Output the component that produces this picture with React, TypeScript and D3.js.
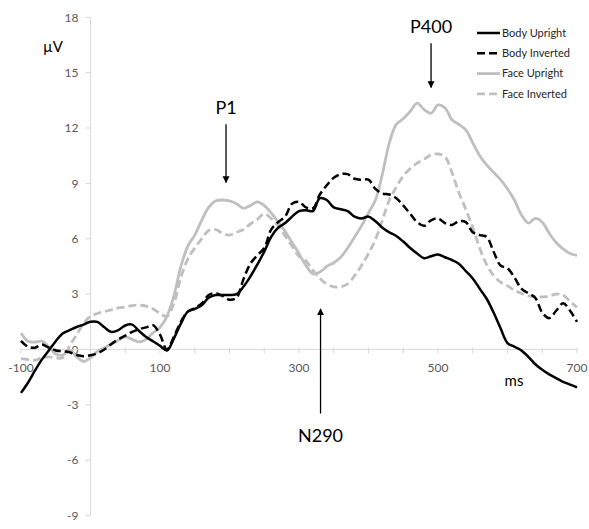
import React, { useEffect, useRef } from 'react'
import * as d3 from 'd3'

// time points (ms), one value every 10 ms
const times = d3.range(-100, 701, 10)

const bodyUpright = [
  -2.35, -1.8, -1.15, -0.55, -0.05, 0.45, 0.87, 1.05, 1.22, 1.35,
  1.5, 1.5, 1.2, 0.95, 1.05, 1.3, 1.35, 1.0, 0.68, 0.45,
  0.2, -0.05, 0.6, 1.4, 2.05, 2.2, 2.4, 2.8, 2.95, 2.95,
  2.95, 3.0, 3.4, 3.95, 4.6, 5.3, 6.1, 6.6, 6.85, 7.2,
  7.5, 7.55, 7.5, 8.2, 8.1, 7.7, 7.6, 7.5, 7.2, 7.1,
  7.2, 6.95, 6.6, 6.35, 6.15, 5.85, 5.5, 5.2, 4.95, 5.05,
  5.15, 5.0, 4.85, 4.65, 4.25, 3.85, 3.3, 2.75, 2.0, 1.15,
  0.35, 0.15, -0.05, -0.4, -0.8, -1.1, -1.35, -1.55, -1.75, -1.9,
  -2.05
]

const bodyInverted = [
  0.47, 0.15, 0.1, 0.27, 0.1, -0.05, -0.1, -0.15, -0.3, -0.36,
  -0.31, -0.2, 0.0, 0.3, 0.55, 0.75, 0.95, 1.1, 1.2, 1.32,
  0.8, 0.0, 0.7, 1.5, 2.05, 2.25, 2.5, 2.95, 3.05, 2.9,
  2.7, 2.8, 3.8, 4.65, 5.1, 5.5, 6.5, 6.9, 7.2, 7.9,
  8.0, 7.7, 7.65, 8.4, 8.9, 9.3, 9.5, 9.5, 9.25, 9.2,
  9.2, 8.7, 8.45, 8.4, 8.2, 7.8, 7.35, 6.9, 6.7, 7.0,
  7.1, 6.85, 6.75, 6.95, 6.9, 6.35, 6.2, 6.1, 5.3, 4.55,
  4.4, 3.9, 3.3, 3.05, 2.8, 2.0, 1.7, 2.1, 2.5, 2.1,
  1.5
]

const faceUpright = [
  0.9, 0.45, 0.4, 0.45, 0.15, -0.25, -0.3, -0.05, -0.4, -0.65,
  -0.45, -0.1, 0.1, 0.3, 0.5, 0.68, 0.55, 0.41, 0.55, 0.9,
  1.2, 1.8, 2.9, 4.5, 5.6, 6.2, 7.0, 7.7, 8.05, 8.1,
  8.05, 7.9, 7.65, 7.8, 8.0, 7.8, 7.4, 6.9, 6.4, 5.8,
  5.2, 4.55, 4.1, 4.2, 4.5, 4.7, 5.0, 5.5, 6.1, 6.7,
  7.4, 8.1, 9.5, 11.2, 12.2, 12.5, 12.9, 13.35, 13.0, 12.8,
  13.25, 13.1, 12.45, 12.2, 11.9, 11.2, 10.5, 10.0, 9.6, 9.2,
  8.7, 8.1, 7.3, 6.85, 7.1, 6.9, 6.3, 5.8, 5.45, 5.2,
  5.1
]

const faceInverted = [
  -0.5, -0.55, -0.58, -0.45, -0.4, -0.45, -0.45, 0.2, 0.8, 1.4,
  1.8, 1.95, 2.05, 2.15, 2.25, 2.3, 2.38, 2.4, 2.35, 2.2,
  1.95, 1.8, 2.5, 3.9, 4.9, 5.5, 6.0, 6.45, 6.5, 6.3,
  6.2, 6.35, 6.5, 6.8, 7.05, 7.35, 7.1, 6.7, 6.15, 5.6,
  5.05, 4.8, 4.3, 3.85, 3.55, 3.4, 3.4, 3.55, 4.0, 4.55,
  5.2, 5.95, 7.0, 8.1, 8.8, 9.4, 9.8, 10.1, 10.3, 10.55,
  10.6, 10.45, 9.6, 8.5, 7.6, 6.6, 5.5, 4.6, 4.0, 3.65,
  3.45, 3.2, 3.05, 2.9, 2.85, 2.85, 2.9, 3.0, 2.95, 2.6,
  2.3
]

const seriesNames = ['Body Upright', 'Body Inverted', 'Face Upright', 'Face Inverted']
const xTickLabels = [-100, 100, 300, 500, 700]
const yTickLabels = [-9, -6, -3, 0, 3, 6, 9, 12, 15, 18]

// peak annotations: label, ms, arrow start / end in µV
const peakLabels = ['P1', 'P400', 'N290']
const peakTimes = [195, 490, 331]
const peakArrowFrom = [12.2, 16.6, -3.47]
const peakArrowTo = [9.05, 14.2, 2.2]

const width = 589
const height = 529

export default function App() {
  const ref = useRef<SVGSVGElement>(null)

  useEffect(() => {
    const svg = d3.select(ref.current)
    svg.selectAll('*').remove()

    const x = d3.scaleLinear().domain([-100, 700]).range([21, 577])
    const y = d3.scaleLinear().domain([-9, 18]).range([515.6, 17.3])
    const axisColor = '#d9d9d9'
    const labelColor = '#595959'
    const font = 'Lato, "Open Sans", sans-serif'

    // y axis at 0 ms
    svg.append('line')
      .attr('x1', x(0)).attr('x2', x(0))
      .attr('y1', y(18)).attr('y2', y(-9))
      .attr('stroke', axisColor).attr('stroke-width', 1)

    svg.selectAll('.ytick')
      .data(yTickLabels)
      .enter().append('line')
      .attr('x1', x(0) - 5).attr('x2', x(0))
      .attr('y1', (d) => y(d)).attr('y2', (d) => y(d))
      .attr('stroke', axisColor)

    svg.selectAll('.ylabel')
      .data(yTickLabels)
      .enter().append('text')
      .attr('x', x(0) - 12)
      .attr('y', (d) => y(d))
      .attr('dy', '0.35em')
      .attr('text-anchor', 'end')
      .attr('fill', labelColor)
      .style('font-family', font)
      .style('font-size', '12px')
      .text((d) => d)

    // x axis at 0 µV
    svg.append('line')
      .attr('x1', x(-100)).attr('x2', x(700))
      .attr('y1', y(0)).attr('y2', y(0))
      .attr('stroke', axisColor).attr('stroke-width', 1)

    svg.selectAll('.xtick')
      .data(d3.range(-100, 701, 50))
      .enter().append('line')
      .attr('x1', (d) => x(d)).attr('x2', (d) => x(d))
      .attr('y1', y(0) - 2).attr('y2', y(0) + 4)
      .attr('stroke', axisColor)

    svg.selectAll('.xlabel')
      .data(xTickLabels)
      .enter().append('text')
      .attr('x', (d) => x(d))
      .attr('y', y(0) + 22)
      .attr('text-anchor', 'middle')
      .attr('fill', labelColor)
      .style('font-family', font)
      .style('font-size', '12px')
      .text((d) => d)

    // unit labels
    svg.append('text')
      .attr('x', 53).attr('y', 52)
      .attr('text-anchor', 'middle')
      .style('font-family', font).style('font-size', '15px')
      .text('µV')
    svg.append('text')
      .attr('x', 514).attr('y', 386)
      .attr('text-anchor', 'middle')
      .style('font-family', font).style('font-size', '15px')
      .text('ms')

    // series
    const values = [bodyUpright, bodyInverted, faceUpright, faceInverted]
    const colors = ['#000000', '#000000', '#bfbfbf', '#bfbfbf']
    const dashes = [null, '8,4', null, '8,4']
    const widths = [2.5, 2.5, 2.8, 2.8]

    const line = d3.line<number>()
      .x((d, i) => x(times[i]))
      .y((d) => y(d))
      .curve(d3.curveCatmullRom.alpha(0.5))

    const drawOrder = [2, 3, 0, 1]
    drawOrder.forEach((s) => {
      svg.append('path')
        .datum(values[s])
        .attr('d', line)
        .attr('fill', 'none')
        .attr('stroke', colors[s])
        .attr('stroke-width', widths[s])
        .attr('stroke-dasharray', dashes[s])
        .attr('stroke-linejoin', 'round')
    })

    // legend
    const legend = svg.append('g').attr('transform', 'translate(477,33)')
    const row = legend.selectAll('.legend')
      .data(seriesNames)
      .enter().append('g')
      .attr('transform', (d, i) => `translate(0,${i * 20.3})`)
    row.append('line')
      .attr('x1', 0).attr('x2', 23)
      .attr('stroke', (d, i) => colors[i])
      .attr('stroke-width', (d, i) => widths[i])
      .attr('stroke-dasharray', (d, i) => dashes[i])
    row.append('text')
      .attr('x', 25).attr('dy', '0.35em')
      .attr('fill', '#262626')
      .style('font-family', font).style('font-size', '11px')
      .text((d) => d)

    // arrow head marker
    svg.append('defs').append('marker')
      .attr('id', 'arrow')
      .attr('viewBox', '0 0 10 10')
      .attr('refX', 9).attr('refY', 5)
      .attr('markerWidth', 7).attr('markerHeight', 9)
      .attr('markerUnits', 'userSpaceOnUse')
      .attr('orient', 'auto')
      .append('path').attr('d', 'M0,0 L10,5 L0,10 z').attr('fill', '#000')

    peakLabels.forEach((label, i) => {
      const px = x(peakTimes[i])
      const from = y(peakArrowFrom[i])
      const to = y(peakArrowTo[i])
      svg.append('line')
        .attr('x1', px).attr('x2', px)
        .attr('y1', from).attr('y2', to)
        .attr('stroke', '#000').attr('stroke-width', 1.3)
        .attr('marker-end', 'url(#arrow)')
      const up = to < from
      svg.append('text')
        .attr('x', px)
        .attr('y', up ? from + 28 : from - 10)
        .attr('text-anchor', 'middle')
        .style('font-family', font).style('font-size', '18px')
        .text(label)
    })
  }, [])

  return (
    <svg ref={ref} width={width} height={height}
      style={{ position: 'absolute', left: 0, top: 0, background: '#fff' }} />
  )
}
